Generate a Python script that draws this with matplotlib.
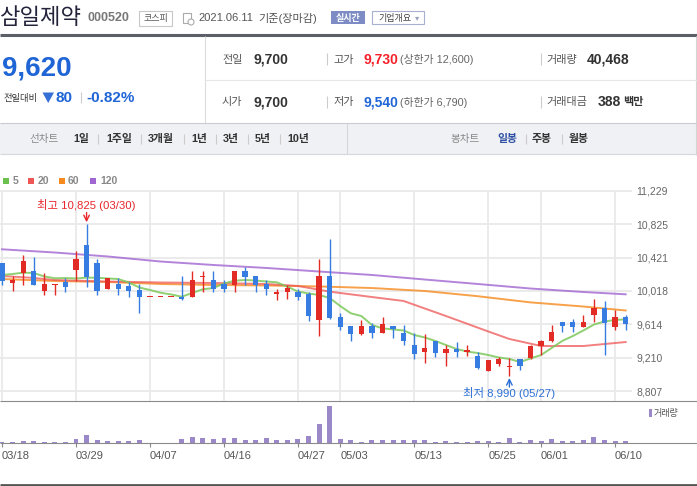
import matplotlib
matplotlib.use('Agg')
import matplotlib.pyplot as plt
from matplotlib.patches import Rectangle, Polygon

plt.rcParams['font.family'] = ['Liberation Sans', 'Noto Sans CJK KR', 'DejaVu Sans']

W, H = 697, 486

# ---- data ----
dates = ['03/18', '03/19', '03/22', '03/23', '03/24', '03/25', '03/26', '03/29', '03/30', '03/31',
         '04/01', '04/02', '04/05', '04/06', '04/07', '04/08', '04/09', '04/12', '04/13', '04/14',
         '04/15', '04/16', '04/19', '04/20', '04/21', '04/22', '04/23', '04/26', '04/27', '04/28',
         '04/29', '04/30', '05/03', '05/04', '05/06', '05/07', '05/10', '05/11', '05/12', '05/13',
         '05/14', '05/17', '05/18', '05/20', '05/21', '05/24', '05/25', '05/26', '05/27', '05/28',
         '05/31', '06/01', '06/02', '06/03', '06/04', '06/07', '06/08', '06/09', '06/10', '06/11']

opens = [10360, 10120, 10230, 10260, 10020, 10100, 10130, 10270, 10575, 10360,
         10045, 10100, 10080, 10030, 9950, 9950, 9950, 9950, 9950, 10190,
         10150, 10100, 10090, 10260, 10200, 10100, 9985, 10000, 10010, 9980,
         9665, 10200, 9700, 9595, 9495, 9595, 9515, 9595, 9515, 9365,
         9285, 9410, 9265, 9315, 9285, 9230, 9055, 9140, 9100, 9190,
         9205, 9350, 9415, 9640, 9640, 9580, 9725, 9810, 9585, 9700]
highs = [10360, 10200, 10450, 10425, 10230, 10100, 10180, 10500, 10825, 10405,
         10180, 10180, 10130, 10100, 9950, 9950, 9950, 10200, 10260, 10260,
         10260, 10150, 10260, 10305, 10200, 10150, 10045, 10090, 10045, 10010,
         10405, 10650, 9755, 9595, 9665, 9635, 9705, 9595, 9605, 9505,
         9495, 9410, 9365, 9405, 9365, 9285, 9180, 9215, 9205, 9190,
         9365, 9425, 9605, 9640, 9680, 9725, 9920, 9895, 9790, 9730]
lows = [10090, 10020, 10090, 10090, 9970, 9970, 10000, 10140, 10070, 9970,
        10045, 9970, 9950, 9755, 9950, 9950, 9950, 9910, 9950, 10000,
        10000, 10000, 10000, 10090, 10000, 9970, 9910, 9920, 9910, 9660,
        9475, 9675, 9545, 9415, 9485, 9450, 9505, 9445, 9365, 9200,
        9150, 9220, 9110, 9220, 9230, 9070, 9055, 9110, 8990, 9060,
        9190, 9245, 9405, 9525, 9525, 9580, 9645, 9245, 9540, 9540]
closes = [10140, 10150, 10385, 10090, 10100, 10100, 10070, 10405, 10190, 10020,
          10180, 10045, 10020, 9950, 9950, 9950, 9950, 9920, 10150, 10200,
          10045, 10045, 10260, 10190, 10090, 10045, 10010, 10060, 9950, 9715,
          10200, 9695, 9585, 9495, 9595, 9505, 9620, 9555, 9415, 9250,
          9325, 9265, 9315, 9285, 9305, 9090, 9180, 9190, 9110, 9110,
          9350, 9415, 9525, 9600, 9580, 9640, 9810, 9635, 9700, 9620]
volumes = [23000, 22000, 40000, 41000, 23000, 22000, 24000, 76000, 146000, 58000,
           40000, 41000, 40000, 58000, 0, 0, 0, 76000, 111000, 93000,
           76000, 93000, 94000, 58000, 57000, 93000, 58000, 58000, 76000, 128000,
           340000, 646000, 76000, 58000, 23000, 58000, 58000, 57000, 58000, 58000,
           58000, 23000, 40000, 23000, 22000, 40000, 41000, 23000, 93000, 22000,
           58000, 40000, 76000, 40000, 41000, 58000, 111000, 58000, 40000, 40468]

ma5 = [10212, 10224, 10240, 10236, 10194, 10172, 10175, 10170, 10180, 10178,
       10170, 10163, 10121, 10060, 10030, 9997, 9976, 9949, 9994, 10039,
       10054, 10109, 10143, 10151, 10145, 10133, 10123, 10070, 10012, 9988,
       9970, 9933, 9836, 9748, 9715, 9606, 9566, 9552, 9540, 9485,
       9455, 9413, 9364, 9316, 9285, 9267, 9243, 9213, 9195, 9158,
       9201, 9243, 9328, 9413, 9473, 9540, 9612, 9649, 9667, 9675]
ma20_idx = [0, 3, 5, 10, 15, 20, 25, 28, 31, 35, 38, 42, 46, 48, 51, 55, 59]
ma20 = [10200, 10176, 10151, 10133, 10121, 10115, 10103, 10079, 10010, 9945, 9897, 9715, 9528, 9437, 9352, 9352, 9400]
ma60_idx = [0, 5, 10, 15, 20, 25, 30, 35, 40, 45, 50, 55, 59]
ma60 = [10163, 10139, 10127, 10103, 10091, 10085, 10073, 10054, 10018, 9955, 9880, 9830, 9782]
ma120_idx = [0, 5, 10, 15, 20, 25, 30, 35, 40, 45, 50, 55, 59]
ma120 = [10523, 10484, 10436, 10375, 10333, 10297, 10254, 10212, 10157, 10103, 10048, 10006, 9978]

price_ticks = [8807, 9210, 9614, 10018, 10421, 10825, 11229]
date_ticks = ['03/18', '03/29', '04/07', '04/16', '04/27', '05/03', '05/13', '05/25', '06/01', '06/10']

RED = '#e32b26'
BLUE = '#377de1'
VOL = '#9b88c8'


def rect(l, t, w, h):
    return [l / W, 1 - (t + h) / H, w / W, h / H]


fig = plt.figure(figsize=(W / 100, H / 100), dpi=100)
bg = fig.add_axes([0, 0, 1, 1])
bg.set_xlim(0, W)
bg.set_ylim(H, 0)
bg.axis('off')


def txt(x, y, s, **kw):
    kw.setdefault('va', 'center')
    kw.setdefault('ha', 'left')
    bg.text(x, y, s, **kw)


def hline(y, x0, x1, **kw):
    bg.plot([x0, x1], [y, y], solid_capstyle='butt', **kw)


def vline(x, y0, y1, **kw):
    bg.plot([x, x], [y0, y1], solid_capstyle='butt', **kw)


# ---- title row ----
txt(-0.5, 17, '삼일제약', fontsize=16, color='#23233b', family='Noto Sans CJK KR')
txt(88, 18, '000520', fontsize=9, weight='bold', color='#777777')
bg.add_patch(Rectangle((139, 11), 33, 15, fc='white', ec='#c8c8c8', lw=0.8))
txt(155.5, 18.5, '코스피', fontsize=6.5, color='#555555', ha='center')
bg.add_patch(Rectangle((183, 13), 8, 10, fc='white', ec='#aaaaaa', lw=0.8))
bg.add_patch(plt.Circle((191, 22), 3, fc='white', ec='#aaaaaa', lw=0.8))
txt(198, 18, '2021.06.11', fontsize=8, color='#555555')
txt(258, 18, '기준(장마감)', fontsize=8, color='#555555')
bg.add_patch(Rectangle((331, 11.5), 34, 12.5, fc='#7d8cc4', ec='none'))
txt(348, 18, '실시간', fontsize=6.5, color='white', ha='center', weight='bold')
bg.add_patch(Rectangle((372, 11.5), 52, 12.5, fc='white', ec='#a7b0cf', lw=0.8))
txt(378, 18, '기업개요', fontsize=6.5, color='#444444')
txt(415, 18, '▾', fontsize=6, color='#99a0bb', family='DejaVu Sans')
hline(35.5, 0, W, color='#5b5f67', lw=2.2)

# ---- price panel ----
vline(204.5, 36, 123, color='#dcdcdc', lw=0.8)
vline(695.5, 36, 155, color='#d5d5d5', lw=0.8)
hline(80.5, 204, W, color='#e6e6e6', lw=0.8)
bg.add_patch(Rectangle((0, 123), W, 31, fc='#f0f1f5', ec='none'))
hline(123.5, 0, W, color='#c9cbd0', lw=0.8)
hline(154.5, 0, W, color='#d5d7dc', lw=0.8)
vline(346.5, 123, 154, color='#d5d7dc', lw=0.8)

txt(2, 69, '9,620', fontsize=20, weight='bold', color='#1f65d6')
txt(3, 98, '전일대비', fontsize=6.7, color='#333333')
bg.add_patch(Polygon([(42.5, 92.5), (54, 92.5), (48.2, 103)], closed=True, fc='#3570d6', ec='none'))
txt(56, 97.5, '80', fontsize=11, weight='bold', color='#1f65d6')
vline(80.5, 92, 103, color='#cccccc', lw=0.8)
txt(86, 97.5, '-0.82%', fontsize=11, weight='bold', color='#1f65d6')

rows = [59.5, 102]
txt(222, rows[0], '전일', fontsize=8, color='#555555')
txt(253, rows[0], '9,700', fontsize=10, weight='bold', color='#333333')
txt(333, rows[0], '고가', fontsize=8, color='#555555')
txt(363, rows[0], '9,730', fontsize=10, weight='bold', color='#f5202a')
txt(400.5, rows[0], '(상한가 12,600)', fontsize=7.8, color='#666666')
txt(546.5, rows[0], '거래량', fontsize=8, color='#555555')
txt(587, rows[0], '40,468', fontsize=10, weight='bold', color='#333333')
txt(222, rows[1], '시가', fontsize=8, color='#555555')
txt(253, rows[1], '9,700', fontsize=10, weight='bold', color='#333333')
txt(333, rows[1], '저가', fontsize=8, color='#555555')
txt(363, rows[1], '9,540', fontsize=10, weight='bold', color='#1f65d6')
txt(400.5, rows[1], '(하한가 6,790)', fontsize=7.8, color='#666666')
txt(546.5, rows[1], '거래대금', fontsize=8, color='#555555')
txt(598, rows[1], '388', fontsize=10, weight='bold', color='#333333')
txt(623, rows[1], '백만', fontsize=8, weight='bold', color='#333333')
for r in rows:
    vline(326.5, r - 6, r + 6, color='#cccccc', lw=0.8)
    vline(540.5, r - 6, r + 6, color='#cccccc', lw=0.8)

# ---- tab bar ----
ty = 139
txt(29, ty, '선차트', fontsize=7.6, color='#888888')
for x, s in [(73, '1일'), (106, '1주일'), (148, '3개월'), (191, '1년'), (223, '3년'), (255, '5년'), (287, '10년')]:
    txt(x, ty, s, fontsize=7.8, weight='bold', color='#333333')
for x in [97, 140, 183, 215, 247, 279, 525, 561]:
    vline(x + 0.5, ty - 5, ty + 5, color='#cccccc', lw=0.8)
txt(450, ty, '봉차트', fontsize=7.6, color='#888888')
txt(497.5, ty, '일봉', fontsize=7.8, weight='bold', color='#2e4fa3')
txt(531.5, ty, '주봉', fontsize=7.8, weight='bold', color='#333333')
txt(569, ty, '월봉', fontsize=7.8, weight='bold', color='#333333')

# ---- MA legend ----
ma_colors = ['#6cc04e', '#ee5555', '#f68a1e', '#a066d0']
for (x, lx, s), c in zip([(3.3, 12.5, '5'), (28, 37.5, '20'), (59, 68, '60'), (90, 100, '120')], ma_colors):
    bg.add_patch(Rectangle((x, 178), 6, 6, fc=c, ec='none'))
    txt(lx, 181, s, fontsize=7.5, weight='bold', color='#888888')

# ---- candle chart ----
xlim = (-0.19, 59.6)
ax = fig.add_axes(rect(0, 190, 632, 211))
ax.set_facecolor('none')
ax.set_xlim(*xlim)
ax.set_ylim(8686, 11241)
for sp in ax.spines.values():
    sp.set_visible(False)
tick_idx = [dates.index(d) for d in date_ticks]
ax.set_xticks(tick_idx)
ax.set_yticks(price_ticks)
ax.set_yticklabels([f'{p:,}' for p in price_ticks])
ax.yaxis.tick_right()
ax.tick_params(axis='x', length=0, labelbottom=False)
ax.tick_params(axis='y', length=0, pad=3, labelsize=7.5, labelcolor='#666666')
ax.grid(True, color='#e9e9e9', lw=1.3)
ax.set_axisbelow(True)

ax.plot(ma120_idx, ma120, color=ma_colors[3], lw=1.4, alpha=0.8, zorder=2)
ax.plot(ma60_idx, ma60, color=ma_colors[2], lw=1.4, alpha=0.8, zorder=2)
ax.plot(ma20_idx, ma20, color=ma_colors[1], lw=1.4, alpha=0.75, zorder=2)
ax.plot(range(len(ma5)), ma5, color='#7cc85a', lw=1.4, alpha=0.85, zorder=2)

for i, (o, h, l, c) in enumerate(zip(opens, highs, lows, closes)):
    col = RED if c >= o else BLUE
    ax.vlines(i, l, h, color=col, lw=1.0, zorder=3)
    body = abs(c - o)
    bottom = min(o, c)
    if body < 14:
        bottom = (o + c) / 2 - 7
        body = 14
    ax.bar(i, body, bottom=bottom, width=0.5, color=col, zorder=3)

hi_i = highs.index(max(highs))
lo_i = lows.index(min(lows))
ax.annotate(f'최고 {max(highs):,} ({dates[hi_i]})', xy=(hi_i, max(highs)), xytext=(0, 14),
            textcoords='offset points', ha='center', va='center', color='#e8262b', fontsize=8.2,
            annotation_clip=False)
ax.annotate('', xy=(hi_i, max(highs)), xytext=(0, 8.5), textcoords='offset points',
            arrowprops=dict(arrowstyle='->', color='#e8262b', lw=1, shrinkA=0, shrinkB=1.5))
ax.annotate(f'최저 {min(lows):,} ({dates[lo_i]})', xy=(lo_i, min(lows)), xytext=(0, -12.3),
            textcoords='offset points', ha='center', va='center', color='#2b6fd6', fontsize=8.2,
            annotation_clip=False)
ax.annotate('', xy=(lo_i, min(lows)), xytext=(0, -8), textcoords='offset points',
            arrowprops=dict(arrowstyle='->', color='#2b6fd6', lw=1, shrinkA=0, shrinkB=1.5),
            annotation_clip=False)

# ---- volume ----
hline(401, 0, W, color='#8a8a8a', lw=0.8)
hline(443.3, 0, W, color='#8a8a8a', lw=0.8)
hline(484.5, 0, W, color='#555555', lw=2)
axv = fig.add_axes(rect(0, 401, 632, 42.3))
axv.set_facecolor('none')
axv.set_xlim(*xlim)
axv.set_ylim(0, 739000)
for sp in axv.spines.values():
    sp.set_visible(False)
axv.bar(range(len(volumes)), volumes, width=0.47, color=VOL)
axv.set_yticks([])
axv.set_xticks(tick_idx)
axv.set_xticklabels(date_ticks)
for lbl in axv.get_xticklabels():
    lbl.set_ha('left')
axv.tick_params(axis='x', length=3, width=0.8, color='#888888', pad=2.5, labelsize=8, labelcolor='#555555')
bg.add_patch(Rectangle((649, 409), 3, 8, fc=VOL, ec='none'))
txt(654, 413, '거래량', fontsize=6.5, color='#555555')

fig.savefig('out.png', dpi=100)
